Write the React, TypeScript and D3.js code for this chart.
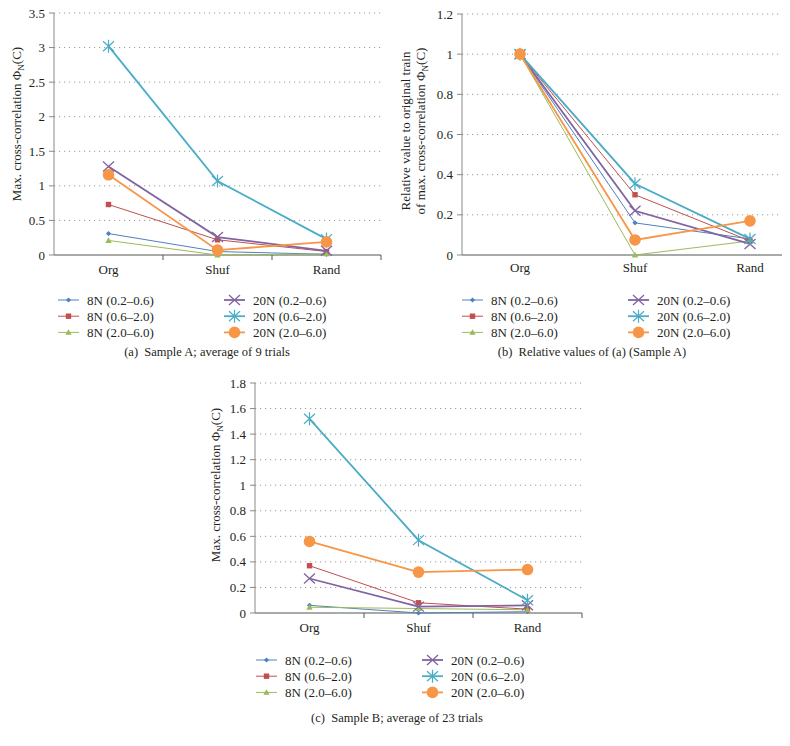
import * as d3 from "d3";

const categories = ["Org", "Shuf", "Rand"];
const seriesLabels = [
  "8N (0.2–0.6)",
  "8N (0.6–2.0)",
  "8N (2.0–6.0)",
  "20N (0.2–0.6)",
  "20N (0.6–2.0)",
  "20N (2.0–6.0)",
];
const seriesColors = ["#4f81bd", "#c0504d", "#9bbb59", "#8064a2", "#4bacc6", "#f79646"];
const seriesMarkers = ["diamond", "square", "triangle", "x", "star", "circle"];

// rows = series, columns = Org / Shuf / Rand
const sampleAValues = [
  [0.31, 0.05, 0.01],
  [0.73, 0.22, 0.05],
  [0.21, 0.0, 0.015],
  [1.28, 0.26, 0.06],
  [3.02, 1.07, 0.23],
  [1.16, 0.07, 0.19],
];
const sampleARelative = [
  [1, 0.16, 0.08],
  [1, 0.3, 0.07],
  [1, 0.0, 0.07],
  [1, 0.22, 0.055],
  [1, 0.355, 0.08],
  [1, 0.075, 0.17],
];
const sampleBValues = [
  [0.06, 0.0, 0.01],
  [0.37, 0.08, 0.03],
  [0.045, 0.035, 0.025],
  [0.27, 0.05, 0.06],
  [1.52, 0.57, 0.1],
  [0.56, 0.32, 0.34],
];

const FONT = "Liberation Serif, DejaVu Serif, Times New Roman, serif";
const INK = "#231f20";

type Layout = {
  left: number; right: number; top: number; bottom: number;
  yMax: number; yTickCount: number;
  pointRange?: [number, number];
  xTicks: boolean;
  xLabelY: number;
  yLabelX: number[]; yLabelCY: number; yLabelLines: string[];
  legendX: [number, number]; legendY: number;
  caption: string; captionX: number; captionY: number;
};

const Marker = ({ type, x, y, color }: { type: string; x: number; y: number; color: string }) => {
  switch (type) {
    case "diamond":
      return <path d={`M${x},${y - 2.6}L${x + 2.6},${y}L${x},${y + 2.6}L${x - 2.6},${y}Z`} fill={color} />;
    case "square":
      return <rect x={x - 2.7} y={y - 2.7} width={5.4} height={5.4} fill={color} />;
    case "triangle":
      return <path d={`M${x},${y - 3.2}L${x + 3.2},${y + 2.4}L${x - 3.2},${y + 2.4}Z`} fill={color} />;
    case "x":
      return <path d={`M${x - 5.5},${y - 5}L${x + 5.5},${y + 5}M${x - 5.5},${y + 5}L${x + 5.5},${y - 5}`} stroke={color} strokeWidth={1.3} fill="none" />;
    case "star":
      return <path d={`M${x - 5.5},${y - 5}L${x + 5.5},${y + 5}M${x - 5.5},${y + 5}L${x + 5.5},${y - 5}M${x},${y - 6.5}L${x},${y + 6.5}`} stroke={color} strokeWidth={1.2} fill="none" />;
    default:
      return <circle cx={x} cy={y} r={5.8} fill={color} />;
  }
};

const YLabel = ({ text, x, cy }: { text: string; x: number; cy: number }) => {
  const parts = text.split("Φ");
  return (
    <text transform={`translate(${x},${cy}) rotate(-90)`} textAnchor="middle" dy="0.35em" fontSize={13} fill={INK}>
      {parts[0]}
      {parts.length > 1 && (
        <>
          Φ<tspan fontSize={9} dy={3}>N</tspan>
          <tspan dy={-3}>(C)</tspan>
        </>
      )}
    </text>
  );
};

const Panel = ({ values, layout }: { values: number[][]; layout: Layout }) => {
  const L = layout;
  const y = d3.scaleLinear().domain([0, L.yMax]).range([L.bottom, L.top]);
  const band = d3.scaleBand<string>().domain(categories).range([L.left, L.right]);
  const point = d3.scalePoint<string>().domain(categories).range(L.pointRange ?? [0, 0]);
  const xPos = (c: string) => (L.pointRange ? point(c)! : band(c)! + band.bandwidth() / 2);
  const yTicks = d3.ticks(0, L.yMax, L.yTickCount);
  const fmt = d3.format("~g");
  const line = d3.line<number>().x((_, i) => xPos(categories[i])).y(d => y(d));

  return (
    <g>
      {yTicks.filter(t => t > 0).map(t => (
        <line key={t} x1={L.left} x2={L.right} y1={y(t)} y2={y(t)} stroke="#9a9a9a" strokeWidth={1} strokeDasharray="1.2 3.8" />
      ))}
      <line x1={L.left} x2={L.left} y1={L.top} y2={L.bottom} stroke="#8a8a8a" />
      {yTicks.map(t => (
        <g key={t}>
          <line x1={L.left - 5} x2={L.left} y1={y(t)} y2={y(t)} stroke="#8a8a8a" />
          <text x={L.left - 9} y={y(t)} dy="0.35em" textAnchor="end" fontSize={13} fill={INK}>{fmt(t)}</text>
        </g>
      ))}
      <line x1={L.left} x2={L.right} y1={L.bottom} y2={L.bottom} stroke="#555" />
      {L.xTicks && [...categories.map(c => band(c)!), L.right].slice(1).map((bx, i) => (
        <line key={i} x1={bx} x2={bx} y1={L.bottom} y2={L.bottom + 5} stroke="#555" />
      ))}
      {categories.map(c => (
        <text key={c} x={xPos(c)} y={L.xLabelY} dy="0.35em" textAnchor="middle" fontSize={13} fill={INK}>{c}</text>
      ))}
      {values.map((row, s) => (
        <path key={s} d={line(row) || ""} fill="none" stroke={seriesColors[s]} strokeWidth={s < 3 ? 1 : 1.8} />
      ))}
      {values.map((row, s) => (
        <g key={s}>
          {row.map((v, i) => (
            <Marker key={i} type={seriesMarkers[s]} x={xPos(categories[i])} y={y(v)} color={seriesColors[s]} />
          ))}
        </g>
      ))}
      {L.yLabelLines.map((t, i) => (
        <YLabel key={i} text={t} x={L.yLabelX[i]} cy={L.yLabelCY} />
      ))}
      {seriesLabels.map((name, s) => {
        const col = Math.floor(s / 3);
        const lx = L.legendX[col];
        const ly = L.legendY + (s % 3) * 16.2;
        return (
          <g key={name}>
            <line x1={lx} x2={lx + 21} y1={ly} y2={ly} stroke={seriesColors[s]} strokeWidth={s < 3 ? 1 : 1.8} />
            <Marker type={seriesMarkers[s]} x={lx + 10.5} y={ly} color={seriesColors[s]} />
            <text x={lx + 29} y={ly} dy="0.35em" fontSize={13} fill={INK}>{name}</text>
          </g>
        );
      })}
      <text x={L.captionX} y={L.captionY} dy="0.35em" textAnchor="middle" fontSize={12.5} fill={INK} style={{ whiteSpace: "pre" }}>
        {L.caption}
      </text>
    </g>
  );
};

const layoutA: Layout = {
  left: 54, right: 381, top: 13, bottom: 255, yMax: 3.5, yTickCount: 7,
  xTicks: true, xLabelY: 269,
  yLabelX: [16], yLabelCY: 124, yLabelLines: ["Max. cross-correlation Φ"],
  legendX: [58, 224], legendY: 300,
  caption: "(a)  Sample A; average of 9 trials", captionX: 207, captionY: 352,
};
const layoutB: Layout = {
  left: 462, right: 782, top: 14, bottom: 255, yMax: 1.2, yTickCount: 6,
  pointRange: [520, 750], xTicks: false, xLabelY: 267,
  yLabelX: [405, 420], yLabelCY: 131,
  yLabelLines: ["Relative value to original train", "of max. cross-correlation Φ"],
  legendX: [462, 628], legendY: 300,
  caption: "(b)  Relative values of (a) (Sample A)", captionX: 592, captionY: 352,
};
const layoutC: Layout = {
  left: 255, right: 582, top: 383, bottom: 613, yMax: 1.8, yTickCount: 9,
  xTicks: true, xLabelY: 627,
  yLabelX: [215], yLabelCY: 485, yLabelLines: ["Max. cross-correlation Φ"],
  legendX: [256, 422], legendY: 660,
  caption: "(c)  Sample B; average of 23 trials", captionX: 397, captionY: 718,
};

export default function App() {
  return (
    <div style={{ position: "absolute", left: 0, top: 0 }}>
      <svg width={790} height={746} fontFamily={FONT} style={{ display: "block", background: "#fff" }}>
        <Panel values={sampleAValues} layout={layoutA} />
        <Panel values={sampleARelative} layout={layoutB} />
        <Panel values={sampleBValues} layout={layoutC} />
      </svg>
    </div>
  );
}
